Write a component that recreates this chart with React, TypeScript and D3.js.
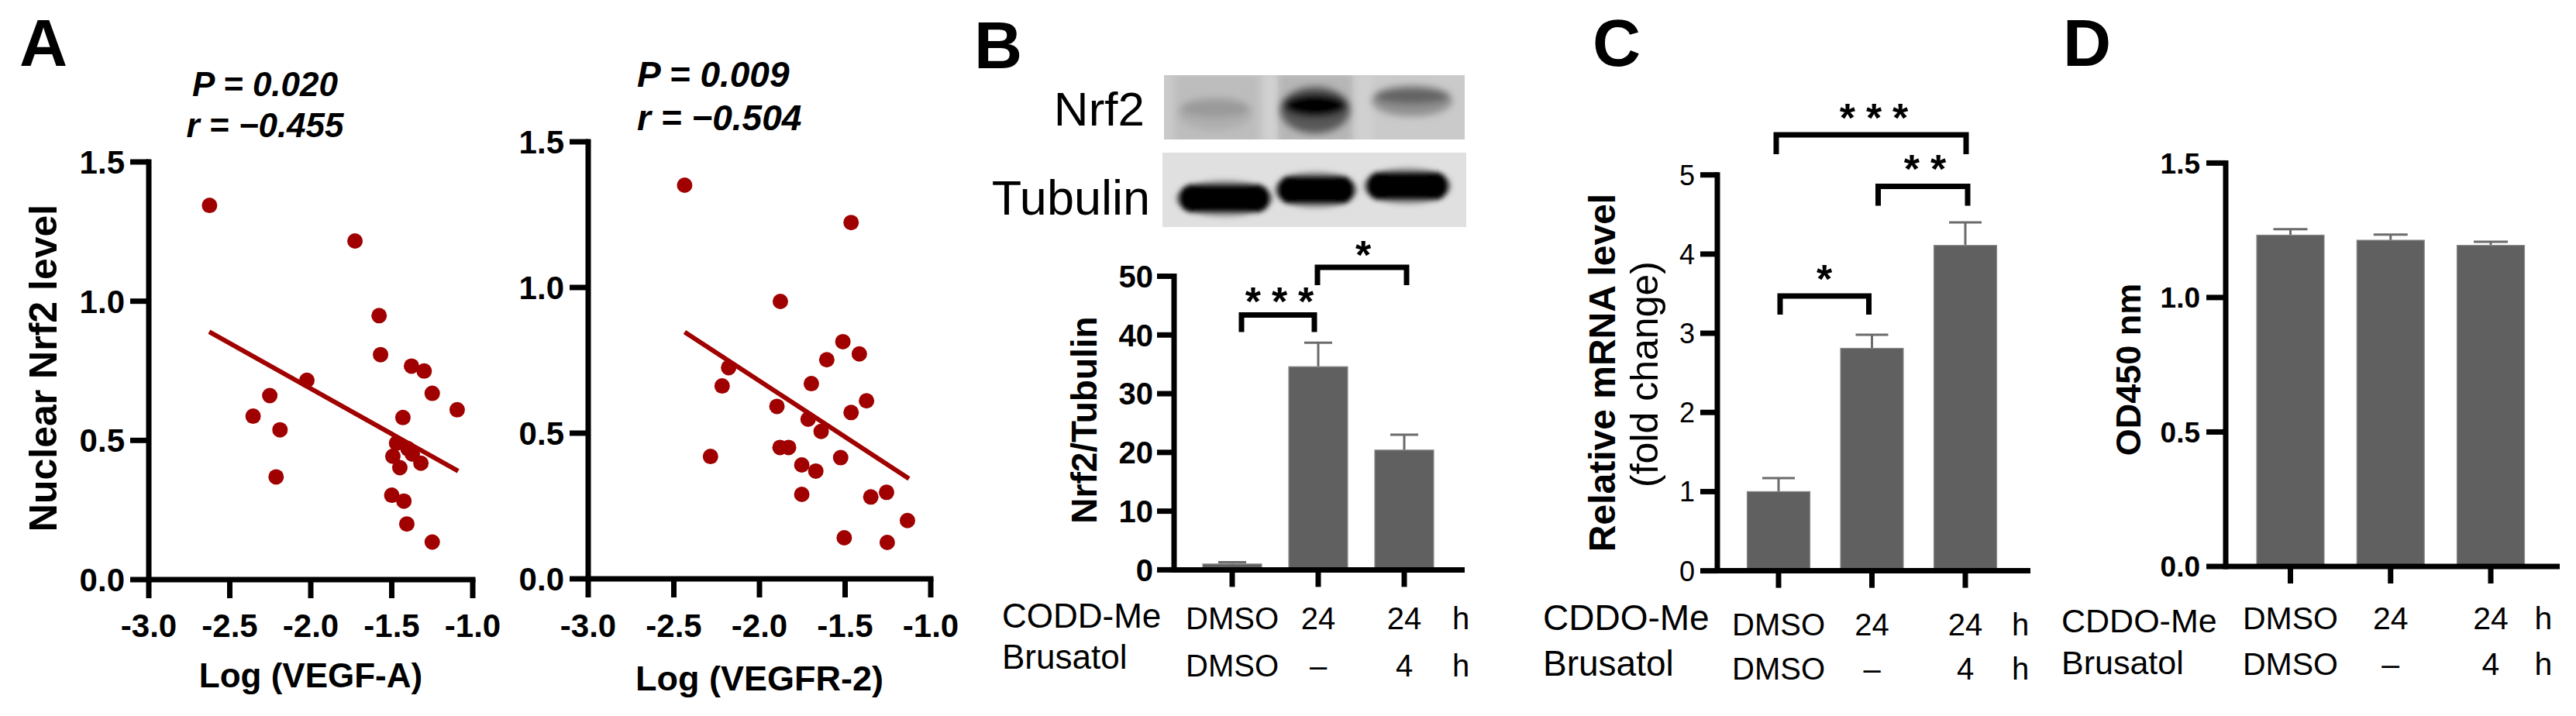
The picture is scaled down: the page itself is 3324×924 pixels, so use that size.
import React, { useEffect } from 'react';
import * as d3 from 'd3';

const W = 3324;
const H = 924;
const FF = '"Liberation Sans", Arial, Helvetica, sans-serif';
const DOT = '#a00000';
const BAR = '#606060';
const ERR = '#6b6b6b';
const AX = 7;

// ---------- Panel A : scatter data ----------
const vegfaLog = [-2.625, -1.727, -1.578, -1.569, -1.378, -1.30, -1.25, -2.024, -2.253, -2.356, -2.19, -2.214, -1.431, -1.493, -1.45, -1.373, -1.32, -1.47, -1.5, -1.425, -1.407, -1.25, -1.096, -1.40];
const vegfaNrf2 = [1.344, 1.216, 0.948, 0.808, 0.767, 0.749, 0.669, 0.716, 0.661, 0.587, 0.538, 0.369, 0.582, 0.443, 0.402, 0.451, 0.418, 0.49, 0.303, 0.282, 0.2, 0.135, 0.61, 0.47];
const vegfaFitX = [-2.627, -1.09];
const vegfaFitY = [0.89, 0.39];
const vegfaStats = ['P = 0.020', 'r = \u22120.455'];

const vegfr2Log = [-2.437, -1.465, -1.878, -1.513, -1.417, -1.607, -2.18, -2.218, -1.697, -1.375, -1.898, -1.465, -1.716, -1.64, -1.88, -1.83, -2.286, -1.526, -1.753, -1.671, -1.753, -1.35, -1.505, -1.258, -1.136, -1.254];
const vegfr2Nrf2 = [1.351, 1.223, 0.952, 0.814, 0.772, 0.752, 0.725, 0.662, 0.67, 0.611, 0.592, 0.571, 0.548, 0.506, 0.451, 0.451, 0.42, 0.416, 0.391, 0.37, 0.29, 0.281, 0.141, 0.297, 0.2, 0.125];
const vegfr2FitX = [-2.437, -1.127];
const vegfr2FitY = [0.847, 0.344];
const vegfr2Stats = ['P = 0.009', 'r = \u22120.504'];

const scatterYTicks = [0, 0.5, 1.0, 1.5];
const scatterYLabels = ['0.0', '0.5', '1.0', '1.5'];
const scatterXTicks = [-3, -2.5, -2, -1.5, -1];
const scatterXLabels = ['-3.0', '-2.5', '-2.0', '-1.5', '-1.0'];

// ---------- Panel B ----------
const groups = ['DMSO', 'CDDO 24h', 'CDDO 24h + Bru 4h'];
const nrf2Tub = [1.0, 34.6, 20.4];
const nrf2TubErr = [0.3, 4.1, 2.6];
const bYTicks = [0, 10, 20, 30, 40, 50];
const rowCddo = ['DMSO', '24', '24'];
const rowBru = ['DMSO', '\u2013', '4'];
const blotNrf2 = [0.22, 1.0, 0.5];
const blotTub = [1.0, 1.0, 1.0];

// ---------- Panel C ----------
const mrna = [1.0, 2.81, 4.11];
const mrnaErr = [0.17, 0.17, 0.29];
const cYTicks = [0, 1, 2, 3, 4, 5];

// ---------- Panel D ----------
const od450 = [1.232, 1.213, 1.194];
const od450Err = [0.022, 0.021, 0.013];
const dYTicks = [0, 0.5, 1.0, 1.5];
const dYLabels = ['0.0', '0.5', '1.0', '1.5'];

function Txt(p: any) {
  const { x, y, s, w = 400, a = 'start', rot = false, it = false, ls, fill = '#000', children } = p;
  return (
    <text
      x={x}
      y={y}
      fontSize={s}
      fontWeight={w}
      textAnchor={a}
      fontStyle={it ? 'italic' : 'normal'}
      fontFamily={FF}
      letterSpacing={ls}
      fill={fill}
      transform={rot ? `rotate(-90 ${x} ${y})` : undefined}
    >
      {children}
    </text>
  );
}

function Scatter({ c }: any) {
  const x = d3.scaleLinear().domain([-3, -1]).range(c.xr);
  const y = d3.scaleLinear().domain([0, 1.5]).range(c.yr);
  const line = d3.line<number[]>().x((d) => x(d[0])).y((d) => y(d[1]));
  const fit = c.fitX.map((v: number, i: number) => [v, c.fitY[i]]);
  const [x0, x1] = c.xr;
  const [yb, yt] = c.yr;
  return (
    <g>
      {c.xs.map((v: number, i: number) => (
        <circle key={i} cx={x(v)} cy={y(c.ys[i])} r={10} fill={DOT} />
      ))}
      <path d={line(fit) || ''} stroke={DOT} strokeWidth={6} fill="none" />
      <line x1={x0} y1={yt} x2={x0} y2={yb} stroke="#000" strokeWidth={AX} strokeLinecap="square" />
      <line x1={x0} y1={yb} x2={x1} y2={yb} stroke="#000" strokeWidth={AX} strokeLinecap="square" />
      {scatterYTicks.map((t, i) => (
        <g key={'y' + i}>
          <line x1={x0 - 24} x2={x0} y1={y(t)} y2={y(t)} stroke="#000" strokeWidth={AX} />
          <Txt x={x0 - 31} y={y(t) + 15} s={42} w={700} a="end">{scatterYLabels[i]}</Txt>
        </g>
      ))}
      {scatterXTicks.map((t, i) => (
        <g key={'x' + i}>
          <line x1={x(t)} x2={x(t)} y1={yb} y2={yb + 24} stroke="#000" strokeWidth={AX} />
          <Txt x={x(t)} y={c.xLabY} s={42} w={700} a="middle">{scatterXLabels[i]}</Txt>
        </g>
      ))}
      <Txt x={(x0 + x1) / 2} y={c.titleY} s={c.titleS} w={700} a="middle">{c.xTitle}</Txt>
      <Txt x={c.statX} y={c.statY[0]} s={c.statS} w={700} it a={c.statA}>{c.stats[0]}</Txt>
      <Txt x={c.statX} y={c.statY[1]} s={c.statS} w={700} it a={c.statA}>{c.stats[1]}</Txt>
    </g>
  );
}

function BarPanel({ c }: any) {
  const x = d3.scalePoint<string>().domain(groups).range(c.xc);
  const y = d3.scaleLinear().domain(c.yDom).range(c.yr);
  const [yb, yt] = c.yr;
  const ax = c.axisX;
  const hw = c.barW / 2;
  return (
    <g>
      {groups.map((g, i) => {
        const cx = x(g) as number;
        const v = c.vals[i];
        const e = c.errs[i];
        return (
          <g key={g}>
            <line x1={cx} x2={cx} y1={y(v)} y2={y(v + e)} stroke={ERR} strokeWidth={3} />
            <line x1={cx - c.capW} x2={cx + c.capW} y1={y(v + e)} y2={y(v + e)} stroke={ERR} strokeWidth={3} />
            <rect x={cx - hw} y={y(v)} width={c.barW} height={yb - y(v)} fill={BAR} stroke="#8a8a8a" strokeWidth={1.2} />
          </g>
        );
      })}
      <line x1={ax} y1={yt} x2={ax} y2={yb} stroke="#000" strokeWidth={AX} strokeLinecap="square" />
      <line x1={ax} y1={yb} x2={c.xEnd} y2={yb} stroke="#000" strokeWidth={AX} />
      {c.yTicks.map((t: number, i: number) => (
        <g key={'t' + i}>
          <line x1={ax - c.tick} x2={ax} y1={y(t)} y2={y(t)} stroke="#000" strokeWidth={AX} />
          <Txt x={ax - c.tick - c.labGap} y={y(t) + c.tickS * 0.36} s={c.tickS} w={c.tickW} a="end">{c.yLabels[i]}</Txt>
        </g>
      ))}
      {groups.map((g) => (
        <line key={'xt' + g} x1={x(g)} x2={x(g)} y1={yb} y2={yb + 22} stroke="#000" strokeWidth={AX} />
      ))}
      {c.yTitle.map((t: any, i: number) => (
        <Txt key={'yt' + i} x={t.x} y={t.cy} s={t.s} w={t.w} a="middle" rot>{t.text}</Txt>
      ))}
      {c.brackets.map((b: any, i: number) => {
        const xa = (x(groups[b.from]) as number) + b.d0;
        const xb = (x(groups[b.to]) as number) + b.d1;
        return (
          <g key={'b' + i}>
            <path d={`M${xa},${b.y + b.leg} V${b.y} H${xb} V${b.y + b.leg}`} stroke="#000" strokeWidth={7} fill="none" />
            <Txt x={b.sx + 7} y={b.sy + 30} s={52} w={700} a="middle" ls={14}>{b.stars}</Txt>
          </g>
        );
      })}
      <Txt x={c.rowX} y={c.rowY[0]} s={c.rowS}>{c.rowNames[0]}</Txt>
      <Txt x={c.rowX} y={c.rowY[1]} s={c.rowS}>{c.rowNames[1]}</Txt>
      {groups.map((g, i) => (
        <g key={'r' + g}>
          <Txt x={x(g)} y={c.valY[0]} s={c.valS} a="middle">{rowCddo[i]}</Txt>
          <Txt x={x(g)} y={c.valY[1]} s={c.valS} a="middle">{rowBru[i]}</Txt>
        </g>
      ))}
      <Txt x={c.hX} y={c.valY[0]} s={c.valS} a="middle">h</Txt>
      <Txt x={c.hX} y={c.valY[1]} s={c.valS} a="middle">h</Txt>
    </g>
  );
}

function Blot() {
  const nrf2Col = d3.interpolateRgb('#c6c6c6', '#000000');
  const nrf2Lanes = [
    { cx: 1568, w: 88, cy: 140, h: 22 },
    { cx: 1697, w: 82, cy: 136, h: 30 },
    { cx: 1822, w: 96, cy: 124, h: 20 },
  ];
  const tubLanes = [
    { cx: 1580, w: 118, cy: 256 },
    { cx: 1698, w: 100, cy: 245 },
    { cx: 1816, w: 106, cy: 240 },
  ];
  return (
    <g>
      <defs>
        <filter id="blurN" x="-20%" y="-50%" width="140%" height="200%">
          <feGaussianBlur stdDeviation="5" />
        </filter>
        <filter id="blurT" x="-20%" y="-50%" width="140%" height="200%">
          <feGaussianBlur stdDeviation="3" />
        </filter>
        <clipPath id="clipN"><rect x={1502} y={97} width={388} height={83} /></clipPath>
        <clipPath id="clipT"><rect x={1500} y={197} width={392} height={96} /></clipPath>
      </defs>
      <rect x={1502} y={97} width={388} height={83} fill="#cacaca" />
      <g clipPath="url(#clipN)">
        <rect x={1515} y={95} width={110} height={90} fill="#bdbdbd" filter="url(#blurN)" />
        <rect x={1650} y={95} width={95} height={90} fill="#b6b6b6" filter="url(#blurN)" />
        <rect x={1632} y={95} width={14} height={90} fill="#d2d2d2" filter="url(#blurN)" />
        <rect x={1750} y={95} width={22} height={90} fill="#d0d0d0" filter="url(#blurN)" />
        {nrf2Lanes.map((l, i) => (
          <g key={i} filter="url(#blurN)">
            <ellipse cx={l.cx} cy={l.cy + 6} rx={l.w / 2 + 4} ry={l.h} fill={nrf2Col(blotNrf2[i] * 0.55)} />
            <ellipse cx={l.cx} cy={l.cy} rx={l.w / 2} ry={l.h / 2} fill={nrf2Col(blotNrf2[i])} />
          </g>
        ))}
      </g>
      <rect x={1500} y={197} width={392} height={96} fill="#e0e0e0" />
      <g clipPath="url(#clipT)">
        {tubLanes.map((l, i) => (
          <g key={i} filter="url(#blurT)">
            <ellipse cx={l.cx} cy={l.cy} rx={l.w / 2 + 4} ry={24} fill="#5a5a5a" opacity={0.5 * blotTub[i]} />
            <rect x={l.cx - l.w / 2} y={l.cy - 18} width={l.w} height={36} rx={18} fill="#050505" opacity={blotTub[i]} />
          </g>
        ))}
      </g>
      <Txt x={1477} y={162} s={62} a="end">Nrf2</Txt>
      <Txt x={1484} y={277} s={63} a="end">Tubulin</Txt>
    </g>
  );
}

const scatterLeft = {
  xs: vegfaLog, ys: vegfaNrf2, fitX: vegfaFitX, fitY: vegfaFitY,
  xr: [192, 610], yr: [748, 209], xLabY: 822,
  xTitle: 'Log (VEGF-A)', titleY: 887, titleS: 44,
  stats: vegfaStats, statX: 342, statY: [124, 177], statS: 44, statA: 'middle',
};
const scatterRight = {
  xs: vegfr2Log, ys: vegfr2Nrf2, fitX: vegfr2FitX, fitY: vegfr2FitY,
  xr: [759, 1201], yr: [747, 183], xLabY: 822,
  xTitle: 'Log (VEGFR-2)', titleY: 891, titleS: 45,
  stats: vegfr2Stats, statX: 822, statY: [112, 168], statS: 46, statA: 'start',
};

const barB = {
  vals: nrf2Tub, errs: nrf2TubErr, xc: [1590, 1812], barW: 76, capW: 18,
  yDom: [0, 50], yr: [735.4, 356.5], axisX: 1515, xEnd: 1890,
  yTicks: bYTicks, yLabels: bYTicks.map(String), tick: 22, labGap: 5, tickS: 40, tickW: 700,
  yTitle: [{ text: 'Nrf2/Tubulin', x: 1415, cy: 542, s: 46, w: 700 }],
  brackets: [
    { from: 0, to: 1, d0: 12, d1: -5, y: 406.6, leg: 22, stars: '***', sx: 1651, sy: 377 },
    { from: 1, to: 2, d0: -1, d1: 3, y: 345, leg: 23, stars: '*', sx: 1759, sy: 317 },
  ],
  rowNames: ['CODD-Me', 'Brusatol'], rowX: 1293, rowY: [810, 863], rowS: 44,
  valY: [812, 873], valS: 40, hX: 1885,
};

const barC = {
  vals: mrna, errs: mrnaErr, xc: [2295, 2536], barW: 81, capW: 21,
  yDom: [0, 5], yr: [736.6, 225.7], axisX: 2216, xEnd: 2620,
  yTicks: cYTicks, yLabels: cYTicks.map(String), tick: 22, labGap: 7, tickS: 36, tickW: 400,
  yTitle: [
    { text: 'Relative mRNA level', x: 2084, cy: 481, s: 48, w: 700 },
    { text: '(fold change)', x: 2139, cy: 483, s: 50, w: 400 },
  ],
  brackets: [
    { from: 0, to: 1, d0: 2, d1: -4, y: 382, leg: 24, stars: '*', sx: 2354, sy: 348 },
    { from: 1, to: 2, d0: 8, d1: 3, y: 240.4, leg: 25, stars: '**', sx: 2484, sy: 206 },
    { from: 0, to: 2, d0: -3, d1: 1, y: 174, leg: 25, stars: '***', sx: 2418, sy: 140 },
  ],
  rowNames: ['CDDO-Me', 'Brusatol'], rowX: 1991, rowY: [813, 872], rowS: 46,
  valY: [820, 877], valS: 40, hX: 2607,
};

const barD = {
  vals: od450, errs: od450Err, xc: [2955.5, 3214], barW: 87, capW: 22,
  yDom: [0, 1.5], yr: [731, 210.4], axisX: 2872, xEnd: 3303,
  yTicks: dYTicks, yLabels: dYLabels, tick: 25, labGap: 8, tickS: 37, tickW: 700,
  yTitle: [{ text: 'OD450 nm', x: 2762, cy: 477, s: 45, w: 700 }],
  brackets: [],
  rowNames: ['CDDO-Me', 'Brusatol'], rowX: 2660, rowY: [816, 870], rowS: 43,
  valY: [812, 871], valS: 41, hX: 3282,
};

export default function App() {
  useEffect(() => {
    document.body.style.margin = '0';
    document.body.style.overflow = 'hidden';
  }, []);
  return (
    <svg
      width={W}
      height={H}
      viewBox={`0 0 ${W} ${H}`}
      style={{ position: 'absolute', left: 0, top: 0, display: 'block', background: '#fff' }}
    >
      <rect width={W} height={H} fill="#fff" />
      <Txt x={25} y={85} s={86} w={700}>A</Txt>
      <Txt x={1257} y={88} s={86} w={700}>B</Txt>
      <Txt x={2055} y={85} s={86} w={700}>C</Txt>
      <Txt x={2662} y={85} s={86} w={700}>D</Txt>
      <Txt x={73} y={475} s={50} w={700} a="middle" rot>Nuclear Nrf2 level</Txt>
      <Scatter c={scatterLeft} />
      <Scatter c={scatterRight} />
      <Blot />
      <BarPanel c={barB} />
      <BarPanel c={barC} />
      <BarPanel c={barD} />
    </svg>
  );
}
